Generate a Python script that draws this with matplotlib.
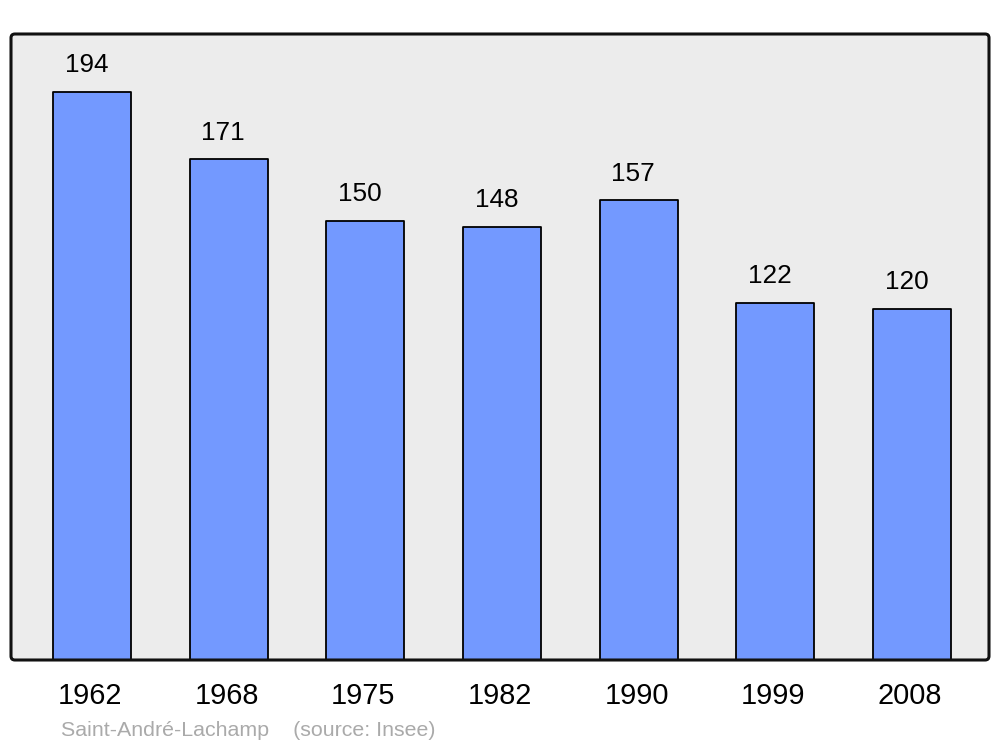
import matplotlib
matplotlib.use("Agg")
import matplotlib.pyplot as plt
import matplotlib.transforms as mtransforms
from matplotlib.patches import FancyBboxPatch

years = ["1962", "1968", "1975", "1982", "1990", "1999", "2008"]
population = [194, 171, 150, 148, 157, 122, 120]
caption = "Saint-André-Lachamp    (source: Insee)"

plt.rcParams['font.family'] = ['Liberation Sans', 'DejaVu Sans']

W, H = 1000, 747
fig = plt.figure(figsize=(W / 100, H / 100), dpi=100)
ax = fig.add_axes([11 / W, 1 - 660 / H, (989 - 11) / W, (660 - 34) / H])
ax.set_facecolor('#ececec')

x = list(range(len(years)))
bars = ax.bar(x, population, width=0.57, color='#7399ff', edgecolor='black',
              linewidth=1.3, zorder=2)
for b in bars:
    b.set_joinstyle('round')

ax.set_xlim(-0.593, 6.563)
ax.set_ylim(0, 213.8)

for xi, v in zip(x, population):
    ax.annotate(str(v), (xi, v), xytext=(-4, 10.5), textcoords='offset points',
                ha='center', va='bottom', fontsize=18.8, color='black')

ax.set_xticks(x)
ax.set_xticklabels(years, fontsize=20.8)
ax.tick_params(axis='x', length=0, pad=16)
offset = mtransforms.ScaledTranslation(-2 / 100, 0, fig.dpi_scale_trans)
for lbl in ax.get_xticklabels():
    lbl.set_transform(lbl.get_transform() + offset)
ax.set_yticks([])
for s in ax.spines.values():
    s.set_visible(False)

frame = FancyBboxPatch((0, 0), 1, 1, boxstyle="round,pad=0,rounding_size=0.004",
                       mutation_aspect=978 / 626, transform=ax.transAxes,
                       facecolor='none', edgecolor='#111111', linewidth=2.2,
                       clip_on=False, zorder=5)
ax.add_patch(frame)

fig.text(61 / W, 1 - 731 / H, caption, fontsize=15.4, color='#aaaaaa',
         ha='left', va='center')

fig.savefig("out.png", dpi=100)
